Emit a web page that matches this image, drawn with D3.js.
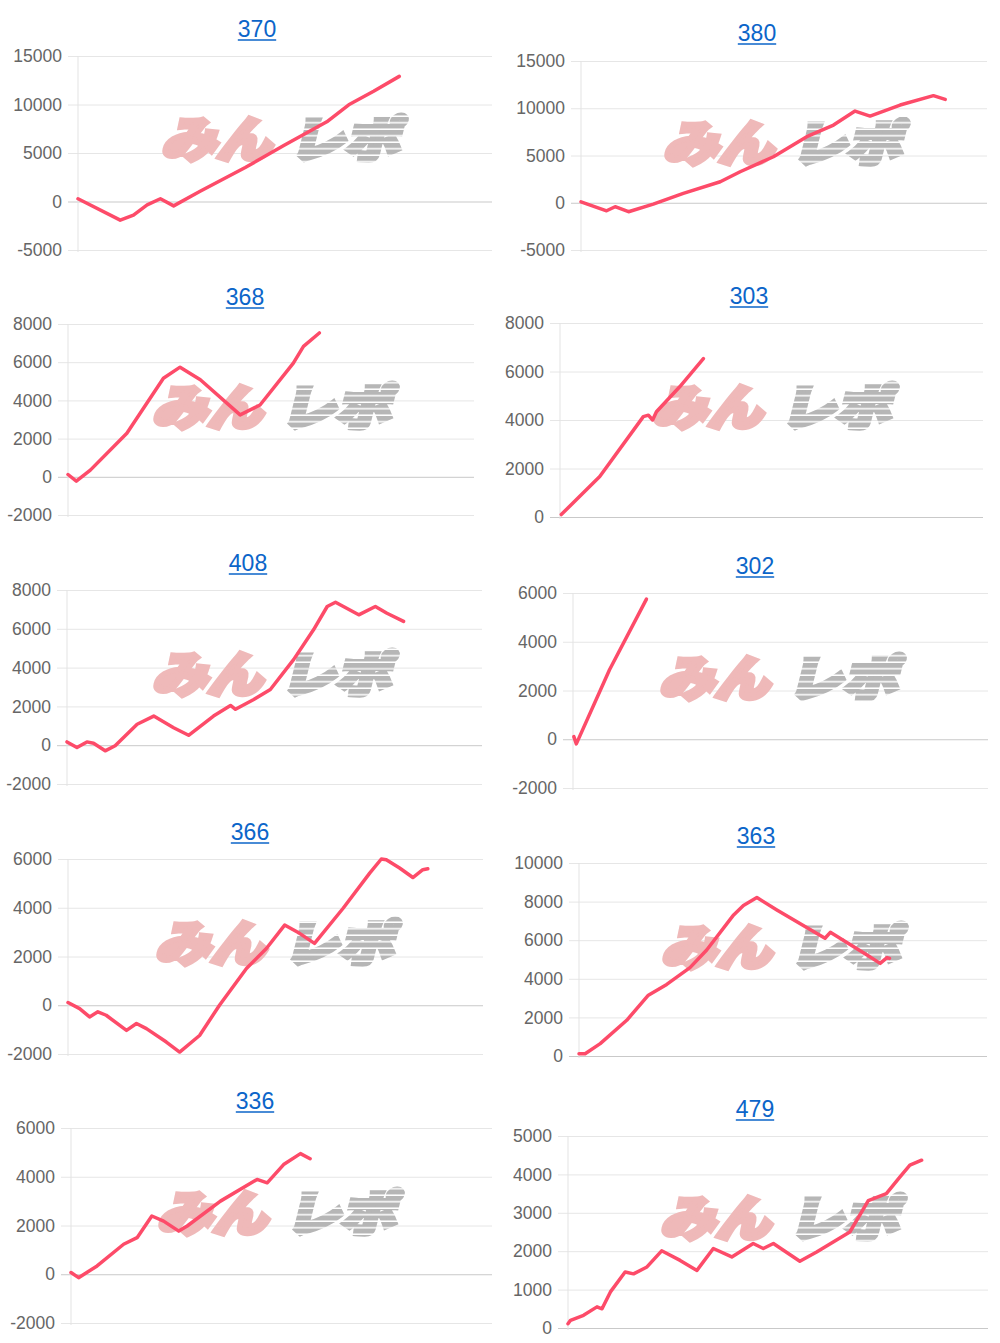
<!DOCTYPE html>
<html>
<head>
<meta charset="utf-8">
<script src="https://cdn.jsdelivr.net/npm/d3@7/dist/d3.min.js"></script>
<style>
  html, body { margin: 0; padding: 0; background: #fff; }
  svg { display: block; }
</style>
</head>
<body>
<svg id="chart" width="1000" height="1343"></svg>
<script>
// ---------------- DATA ----------------
// Chart titles (machine numbers)
const titles = ["370", "380", "368", "303", "408", "302", "366", "363", "336", "479"];

// x = progress along the x-axis (0–100), y = cumulative difference
const x370 = [0, 10.2, 13.4, 16.7, 19.9, 23.1, 29.5, 40.4, 49.7, 60.1, 65.4, 71.4, 77.6];
const y370 = [280, -1920, -1400, -350, 280, -450, 1050, 3500, 5770, 8220, 9970, 11360, 12900];

const x380 = [0, 6.3, 8.4, 11.7, 17.8, 25.2, 34.3, 39.2, 47.4, 51.5, 55.6, 62.2, 67.5, 71.2, 78.6, 86.8, 89.7];
const y380 = [100, -850, -420, -950, -140, 990, 2220, 3280, 4870, 5930, 6990, 8220, 9700, 9170, 10340, 11330, 10940];

const x368 = [0, 2.05, 5.5, 14.5, 23.5, 27.6, 32.6, 42.4, 47.3, 55.5, 58.0, 61.9];
const y368 = [120, -230, 350, 2280, 5160, 5740, 5080, 3240, 3760, 5950, 6830, 7530];

const x303 = [0.3, 9.4, 19.7, 20.9, 21.9, 22.8, 28.3, 33.9];
const y303 = [100, 1670, 4140, 4200, 4000, 4340, 5370, 6530];

const x408 = [0, 2.4, 4.8, 6.4, 9.2, 11.6, 16.9, 20.9, 25.7, 29.3, 35.3, 39.4, 40.6, 45.0, 49.0, 54.6, 59.4, 62.7, 64.7, 70.3, 74.3, 77.1, 81.1];
const y408 = [170, -120, 170, 100, -290, -30, 1080, 1500, 900, 510, 1500, 2050, 1850, 2360, 2870, 4410, 5950, 7150, 7370, 6720, 7150, 6800, 6380];

const x302 = [0.2, 0.8, 8.8, 17.7];
const y302 = [110, -190, 2850, 5750];

const x366 = [0, 2.8, 5.2, 7.2, 9.2, 14.1, 16.5, 18.9, 23.7, 26.9, 31.7, 36.5, 43.0, 47.8, 52.2, 55.8, 59.4, 66.3, 72.7, 75.5, 76.7, 79.9, 83.1, 85.5, 86.7];
const y366 = [110, -140, -480, -270, -410, -1030, -750, -960, -1510, -1920, -1240, 0, 1510, 2330, 3290, 2950, 2540, 3980, 5420, 6000, 5970, 5630, 5240, 5560, 5600];

const x363 = [0, 1.5, 5.2, 11.7, 17.0, 21.5, 27.2, 31.3, 37.9, 40.3, 43.6, 48.5, 60.3, 61.6, 70.6, 73.8, 75.5, 76.1];
const y363 = [120, 120, 640, 1850, 3150, 3710, 4580, 5490, 7310, 7800, 8210, 7570, 6100, 6410, 5230, 4800, 5100, 5060];

const x336 = [0, 1.8, 6.2, 12.5, 15.7, 19.2, 22.0, 25.6, 27.6, 35.5, 44.2, 46.6, 50.5, 54.5, 56.8];
const y336 = [70, -140, 340, 1230, 1500, 2390, 2180, 1770, 1980, 3000, 3890, 3750, 4500, 4950, 4740];

const x479 = [0, 0.6, 3.7, 6.9, 8.1, 10.1, 13.6, 15.6, 18.8, 22.3, 26.7, 30.7, 34.6, 39.0, 44.1, 46.5, 48.9, 55.2, 59.2, 67.1, 71.5, 75.8, 79.0, 81.4, 84.2];
const y479 = [110, 200, 330, 550, 500, 940, 1460, 1410, 1590, 2010, 1760, 1500, 2070, 1850, 2200, 2070, 2200, 1740, 1980, 2500, 3320, 3500, 3930, 4240, 4370];

// Y tick labels per chart
const ticks370 = [-5000, 0, 5000, 10000, 15000];
const ticks380 = [-5000, 0, 5000, 10000, 15000];
const ticks368 = [-2000, 0, 2000, 4000, 6000, 8000];
const ticks303 = [0, 2000, 4000, 6000, 8000];
const ticks408 = [-2000, 0, 2000, 4000, 6000, 8000];
const ticks302 = [-2000, 0, 2000, 4000, 6000];
const ticks366 = [-2000, 0, 2000, 4000, 6000];
const ticks363 = [0, 2000, 4000, 6000, 8000, 10000];
const ticks336 = [-2000, 0, 2000, 4000, 6000];
const ticks479 = [0, 1000, 2000, 3000, 4000, 5000];

const xDomain = [0, 100];

// ---------------- LAYOUT (pixels, kept apart from data) ----------------
const layout = [
  {left: 78,  right: 492, top: 56,   bottom: 250,  tx: 257, ty: 37,   wx: 163, wy: 118},
  {left: 581, right: 987, top: 61,   bottom: 250,  tx: 757, ty: 41,   wx: 665, wy: 122},
  {left: 68,  right: 474, top: 324,  bottom: 515,  tx: 245, ty: 305,  wx: 154, wy: 386},
  {left: 560, right: 983, top: 323,  bottom: 517,  tx: 749, ty: 304,  wx: 654, wy: 386},
  {left: 67,  right: 482, top: 590,  bottom: 784,  tx: 248, ty: 571,  wx: 154, wy: 653},
  {left: 573, right: 988, top: 593,  bottom: 788,  tx: 755, ty: 574,  wx: 661, wy: 657},
  {left: 68,  right: 483, top: 859,  bottom: 1054, tx: 250, ty: 840,  wx: 157, wy: 922},
  {left: 579, right: 987, top: 863,  bottom: 1056, tx: 756, ty: 844,  wx: 663, wy: 926},
  {left: 71,  right: 492, top: 1128, bottom: 1323, tx: 255, ty: 1109, wx: 159, wy: 1192},
  {left: 568, right: 988, top: 1136, bottom: 1328, tx: 755, ty: 1117, wx: 662, wy: 1197}
];

const seriesX = [x370, x380, x368, x303, x408, x302, x366, x363, x336, x479];
const seriesY = [y370, y380, y368, y303, y408, y302, y366, y363, y336, y479];
const tickSets = [ticks370, ticks380, ticks368, ticks303, ticks408, ticks302, ticks366, ticks363, ticks336, ticks479];

// ---------------- DRAW ----------------
const svg = d3.select("#chart");
const FONT = "'Liberation Sans', Arial, Helvetica, sans-serif";
const CJK = "'Noto Sans CJK JP', 'Noto Sans CJK SC', sans-serif";
const LINE_COLOR = "#fd4b69";

const defs = svg.append("defs");
const pat = defs.append("pattern")
  .attr("id", "stripes").attr("patternUnits", "userSpaceOnUse")
  .attr("width", 10).attr("height", 6.5);
pat.append("rect").attr("x", 0).attr("y", 0).attr("width", 10).attr("height", 5).attr("fill", "#fff");

titles.forEach((title, i) => {
  const L = layout[i];
  const ticks = tickSets[i];
  const data = seriesX[i].map((x, k) => ({x, y: seriesY[i][k]}));

  const x = d3.scaleLinear().domain(xDomain).range([L.left, L.right]);
  const y = d3.scaleLinear().domain(d3.extent(ticks)).range([L.bottom, L.top]);

  const g = svg.append("g");

  const axis = d3.axisLeft(y)
    .tickValues(ticks)
    .tickFormat(d => String(d))
    .tickSizeInner(-(L.right - L.left + 10))
    .tickSizeOuter(0)
    .tickPadding(6);

  const ax = g.append("g")
    .attr("transform", `translate(${L.left - 10},0)`)
    .call(axis);
  ax.select(".domain").remove();
  ax.selectAll(".tick line")
    .attr("stroke", d => d === 0 ? "#c9c9c9" : "#e6e6e6")
    .attr("stroke-width", 1);
  ax.selectAll(".tick text")
    .attr("fill", "#666")
    .style("font-family", FONT)
    .style("font-size", "17.5px");

  g.append("line")
    .attr("x1", L.left).attr("x2", L.left)
    .attr("y1", y(d3.max(ticks))).attr("y2", y(d3.min(ticks)) + 2)
    .attr("stroke", "#e3e3e3").attr("stroke-width", 1);

  // watermark "みんレポ"
  const maskId = "m" + i;
  const mask = defs.append("mask").attr("id", maskId).attr("maskUnits", "userSpaceOnUse")
    .attr("x", L.wx - 20).attr("y", L.wy - 10).attr("width", 300).attr("height", 70);
  mask.append("rect").attr("x", L.wx - 20).attr("y", L.wy - 10).attr("width", 300).attr("height", 70)
    .attr("fill", "url(#stripes)");

  g.append("text")
    .attr("transform", `translate(${L.wx + 8},${L.wy}) skewX(-14)`)
    .attr("x", 0).attr("y", 39)
    .attr("textLength", 110).attr("lengthAdjust", "spacingAndGlyphs")
    .style("font-family", CJK)
    .style("font-weight", 900)
    .style("font-size", "48px")
    .attr("fill", "#efb9b9")
    .attr("stroke", "#efb9b9").attr("stroke-width", 5).attr("stroke-linejoin", "miter")
    .text("みん");

  g.append("g").attr("mask", `url(#${maskId})`)
    .append("text")
    .attr("transform", `translate(${L.wx + 8},${L.wy}) skewX(-14)`)
    .attr("x", 128).attr("y", 39)
    .attr("textLength", 110).attr("lengthAdjust", "spacingAndGlyphs")
    .style("font-family", CJK)
    .style("font-weight", 900)
    .style("font-size", "48px")
    .attr("fill", "#b6b6b6")
    .attr("stroke", "#b6b6b6").attr("stroke-width", 5).attr("stroke-linejoin", "miter")
    .text("レポ");

  const line = d3.line().x(d => x(d.x)).y(d => y(d.y)).curve(d3.curveLinear);
  svg.append("path")
    .datum(data)
    .attr("d", line)
    .attr("fill", "none")
    .attr("stroke", LINE_COLOR)
    .attr("stroke-width", 3.5)
    .attr("stroke-linejoin", "round")
    .attr("stroke-linecap", "round");

  const t = svg.append("text")
    .attr("x", L.tx).attr("y", L.ty)
    .attr("text-anchor", "middle")
    .style("font-family", FONT)
    .style("font-size", "23px")
    .attr("fill", "#0b65c9")
    .text(title);
  const w = t.node().getComputedTextLength();
  svg.append("line")
    .attr("x1", L.tx - w / 2).attr("x2", L.tx + w / 2)
    .attr("y1", L.ty + 3).attr("y2", L.ty + 3)
    .attr("stroke", "#0b65c9").attr("stroke-width", 1.5);
});
</script>
</body>
</html>
